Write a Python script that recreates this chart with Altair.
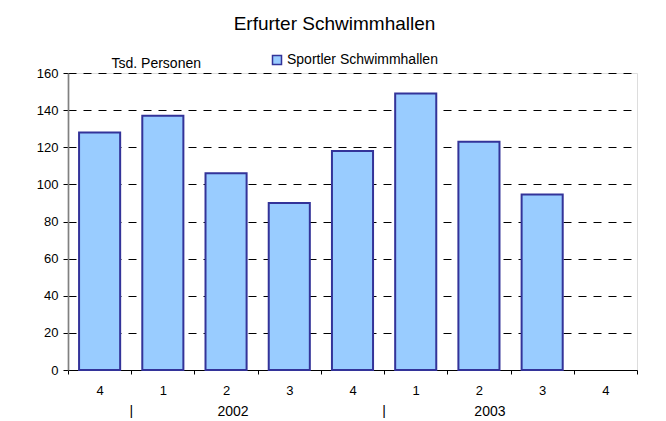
import altair as alt
import pandas as pd

quarters = ["4", "1", "2", "3", "4", "1", "2", "3", "4"]
values = [128, 137, 106, 90, 118, 149, 123, 94.5, None]
series_name = "Sportler Schwimmhallen"
years = ["2002", "2003"]
year_idx = [2, 6]
sep_idx = [1, 5]

W, H = 569, 297
FONT = "Liberation Sans"

df = pd.DataFrame({"idx": list(range(len(quarters))), "q": quarters, "v": values, "s": series_name})
label_expr = "[" + ",".join("'%s'" % q for q in quarters) + "][datum.value]"

xscale = alt.Scale(domain=list(range(len(quarters))), paddingInner=0, paddingOuter=0)

bars = alt.Chart(df).mark_bar(stroke="#333399", strokeWidth=2, fill="#99CCFF",
                              width=alt.RelativeBandSize(0.65)).encode(
    x=alt.X("idx:O", scale=xscale, title=None,
            axis=alt.Axis(labelExpr=label_expr, labelAngle=0, tickBand="extent",
                          domainColor="#000000", tickColor="#000000", tickSize=4,
                          labelFontSize=13, labelColor="#000000", labelFont=FONT,
                          labelPadding=10, grid=False)),
    y=alt.Y("v:Q", scale=alt.Scale(domain=[0, 160]),
            axis=alt.Axis(values=list(range(0, 161, 20)), grid=True, gridDash=[8, 7],
                          gridColor="#000000", gridWidth=1, domainColor="#808080",
                          domainWidth=1.7, tickColor="#000000", tickSize=5,
                          labelFontSize=13, labelColor="#000000", labelFont=FONT,
                          labelPadding=5,
                          title="Tsd. Personen", titleAngle=0, titleAlign="left",
                          titleBaseline="alphabetic", titleX=43, titleY=-6,
                          titleFont=FONT, titleFontSize=14, titleFontWeight="normal",
                          titleColor="#000000")),
    color=alt.Color("s:N", scale=alt.Scale(range=["#99CCFF"]),
                    legend=alt.Legend(title=None, orient="none", legendX=202, legendY=-20,
                                      symbolType="square", symbolSize=81,
                                      symbolStrokeColor="#333399", symbolStrokeWidth=1.5,
                                      labelFont=FONT, labelFontSize=14, labelColor="#000000",
                                      labelOffset=3)),
)

ydf = pd.DataFrame({"idx": year_idx, "t": years})
sdf = pd.DataFrame({"idx": sep_idx, "t": ["|"] * len(sep_idx)})

def year_mark(year, shift):
    return alt.Chart(ydf).transform_filter(alt.datum.t == year).mark_text(
        font=FONT, fontSize=14, color="#000000", dx=shift, baseline="middle").encode(
        x=alt.X("idx:O", scale=xscale), y=alt.value(H + 42), text="t:N")

sep_text = alt.Chart(sdf).mark_text(font=FONT, fontSize=14, color="#000000",
                                    baseline="middle").encode(
    x=alt.X("idx:O", scale=xscale, bandPosition=0), y=alt.value(H + 42), text="t:N")

title_text = alt.Chart(pd.DataFrame({"t": ["Erfurter Schwimmhallen"]})).mark_text(
    font=FONT, fontSize=19, color="#000000", baseline="alphabetic", align="center").encode(
    x=alt.value(W / 2 - 18), y=alt.value(-43), text="t:N")

chart = alt.layer(bars, year_mark("2002", 7), year_mark("2003", 11), sep_text,
                  title_text).properties(
    width=W, height=H,
    autosize=alt.AutoSizeParams(type="none"),
    padding={"left": 60, "top": 65, "right": 21, "bottom": 48},
).configure_view(stroke=None).configure(background="white")

chart.save("out.html", embed_options={"renderer": "svg", "actions": False})
